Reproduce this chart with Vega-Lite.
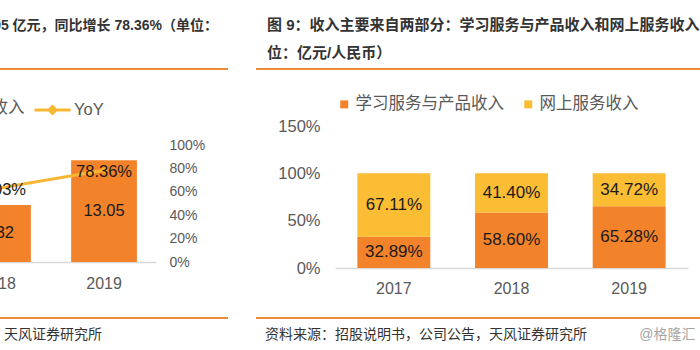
{
  "$schema": "https://vega.github.io/schema/vega-lite/v6.json",
  "background": "white",
  "padding": {"left": -161, "top": 18, "right": 0, "bottom": 0},
  "config": {
    "view": {"stroke": null},
    "font": "Liberation Sans, Noto Sans CJK SC",
    "axis": {"grid": false, "ticks": false, "domain": false, "labelColor": "#595959", "labelFontSize": 16, "labelFont": "Liberation Sans, Noto Sans CJK SC"},
    "legend": {"labelColor": "#595959", "labelFont": "Liberation Sans, Noto Sans CJK SC"},
    "title": {"font": "Liberation Sans, Noto Sans CJK SC", "fontSize": 15, "fontWeight": "bold", "color": "#333333", "lineHeight": 28}
  },
  "datasets": {
    "sep": [{"part": "divider"}],
    "revenue": [
      {"year": "2017", "revenue": 4.49},
      {"year": "2018", "revenue": 7.32, "yoy": 0.6303},
      {"year": "2019", "revenue": 13.05, "yoy": 0.7836}
    ],
    "share": [
      {"year": "2017", "type": "学习服务与产品收入", "share": 0.3289},
      {"year": "2017", "type": "网上服务收入", "share": 0.6711},
      {"year": "2018", "type": "学习服务与产品收入", "share": 0.586},
      {"year": "2018", "type": "网上服务收入", "share": 0.414},
      {"year": "2019", "type": "学习服务与产品收入", "share": 0.6528},
      {"year": "2019", "type": "网上服务收入", "share": 0.3472}
    ]
  },
  "spacing": 0,
  "resolve": {"scale": {"color": "independent"}, "legend": {"color": "independent"}},
  "vconcat": [
    {
      "spacing": 26,
      "hconcat": [
        {
          "width": 388, "height": 27,
          "data": {"name": "sep"},
          "mark": {"type": "rule", "color": "#EE8B3A", "strokeWidth": 2},
          "encoding": {"y": {"datum": 1, "type": "quantitative", "scale": {"domain": [0, 1]}, "axis": null}},
          "title": {"text": "图 8：营业收入 13.05 亿元，同比增长 78.36%（单位：", "anchor": "end", "dx": -11, "offset": 35, "fontSize": 14}
        },
        {
          "width": 450, "height": 27,
          "data": {"name": "sep"},
          "mark": {"type": "rule", "color": "#EE8B3A", "strokeWidth": 2},
          "encoding": {"y": {"datum": 1, "type": "quantitative", "scale": {"domain": [0, 1]}, "axis": null}},
          "title": {"text": ["图 9：收入主要来自两部分：学习服务与产品收入和网上服务收入（单", "位：亿元/人民币）"], "anchor": "start", "dx": 12, "offset": 7}
        }
      ]
    },
    {
      "spacing": 72,
      "resolve": {"scale": {"color": "independent"}, "legend": {"color": "independent"}},
      "hconcat": [
        {
          "width": 316, "height": 136,
          "data": {"name": "revenue"},
          "encoding": {
            "x": {"field": "year", "type": "ordinal", "title": null,
              "scale": {"paddingInner": 0.38, "paddingOuter": 0.18},
              "axis": {"labelAngle": 0, "labelFontSize": 16, "labelPadding": 13, "domain": true, "domainColor": "#D9D9D9", "domainWidth": 1.5}}
          },
          "layer": [
            {
              "layer": [
                {
                  "mark": {"type": "bar"},
                  "encoding": {
                    "y": {"field": "revenue", "type": "quantitative", "scale": {"domain": [0, 17.44], "nice": false}, "axis": null},
                    "color": {"datum": "营业收入", "type": "nominal", "scale": {"range": ["#F2832B"]},
                      "legend": {"orient": "none", "legendX": 97, "legendY": -26, "direction": "horizontal", "title": null, "symbolType": "square", "symbolSize": 64, "labelOffset": 5, "labelFontSize": 16.5}}
                  }
                },
                {
                  "mark": {"type": "text", "fontSize": 16.5, "color": "#1A1A1A"},
                  "encoding": {
                    "y": {"field": "revenue", "type": "quantitative", "stack": "zero", "bandPosition": 0.5, "scale": {"domain": [0, 17.44], "nice": false}, "axis": null},
                    "text": {"field": "revenue", "type": "quantitative", "format": ".2f"}
                  }
                }
              ]
            },
            {
              "encoding": {
                "y": {"field": "yoy", "type": "quantitative", "title": null, "scale": {"domain": [0, 1.1624], "nice": false},
                  "axis": {"orient": "right", "values": [0, 0.2, 0.4, 0.6, 0.8, 1], "format": ".0%", "labelFontSize": 14, "labelPadding": 13}}
              },
              "layer": [
                {
                  "mark": {"type": "line", "strokeWidth": 3, "point": {"shape": "diamond", "filled": true, "size": 50}},
                  "encoding": {
                    "color": {"datum": "YoY", "type": "nominal", "scale": {"range": ["#F7B733"]},
                      "legend": {"orient": "none", "legendX": 198.5, "legendY": -30, "padding": 2.5, "direction": "horizontal", "title": null,
                        "symbolType": "M-1.8,0H1.8M0,-0.35L0.35,0L0,0.35L-0.35,0Z", "symbolSize": 400, "symbolStrokeWidth": 3,
                        "symbolFillColor": "#F7B733", "symbolStrokeColor": "#F7B733", "labelOffset": 10, "labelFontSize": 16.5}}
                  }
                },
                {
                  "mark": {"type": "text", "fontSize": 16.5, "color": "#1A1A1A", "dy": 2},
                  "encoding": {"text": {"field": "yoy", "type": "quantitative", "format": ".2%"}}
                }
              ]
            }
          ],
          "resolve": {"scale": {"y": "independent", "color": "independent"}}
        },
        {
          "width": 353, "height": 142,
          "data": {"name": "share"},
          "encoding": {
            "x": {"field": "year", "type": "ordinal", "title": null,
              "scale": {"paddingInner": 0.38, "paddingOuter": 0.19},
              "axis": {"labelAngle": 0, "labelFontSize": 16, "labelPadding": 12, "domain": true, "domainColor": "#D9D9D9", "domainWidth": 1.5}}
          },
          "layer": [
            {
              "mark": {"type": "bar"},
              "encoding": {
                "y": {"field": "share", "type": "quantitative", "stack": "zero", "title": null, "scale": {"domain": [0, 1.5], "nice": false},
                  "axis": {"values": [0, 0.5, 1, 1.5], "format": ".0%", "labelFontSize": 16.5, "labelPadding": 15}},
                "color": {"field": "type", "type": "nominal",
                  "scale": {"domain": ["学习服务与产品收入", "网上服务收入"], "range": ["#F2832B", "#FBBD33"]},
                  "legend": {"orient": "none", "legendX": 1, "legendY": -30, "direction": "horizontal", "title": null, "symbolType": "square", "symbolSize": 64, "labelOffset": 3, "columnPadding": 16, "labelFontSize": 16.5, "labelLimit": 400}},
                "order": {"field": "type", "type": "ordinal", "sort": "ascending"}
              }
            },
            {
              "mark": {"type": "text", "fontSize": 17, "color": "#1A1A1A"},
              "encoding": {
                "y": {"field": "share", "type": "quantitative", "stack": "zero", "bandPosition": 0.5},
                "detail": {"field": "type", "type": "nominal"},
                "order": {"field": "type", "type": "ordinal", "sort": "ascending"},
                "text": {"field": "share", "type": "quantitative", "format": ".2%"}
              }
            }
          ]
        }
      ]
    },
    {
      "spacing": 26,
      "hconcat": [
        {
          "width": 388, "height": 22,
          "data": {"name": "sep"},
          "mark": {"type": "rule", "color": "#EE8B3A", "strokeWidth": 2},
          "encoding": {"y": {"datum": 0, "type": "quantitative", "scale": {"domain": [0, 1]}, "axis": null}},
          "title": {"text": "资料来源：公司公告，天风证券研究所", "orient": "bottom", "anchor": "end", "dx": -127, "offset": 9, "fontSize": 14, "fontWeight": "normal", "color": "#333333"}
        },
        {
          "width": 450, "height": 22,
          "data": {"name": "sep"},
          "mark": {"type": "rule", "color": "#EE8B3A", "strokeWidth": 2},
          "encoding": {
            "y": {"datum": 0, "type": "quantitative", "scale": {"domain": [0, 1]}, "axis": null},
            "x": {"datum": 0, "type": "quantitative", "scale": {"domain": [0, 1]},
              "axis": {"labels": false, "ticks": false, "domain": false, "grid": false, "title": "@格隆汇", "titleFontSize": 14, "titleFontWeight": "normal", "titleColor": "#A6A6A6", "titleX": 439, "titleAlign": "right", "titlePadding": 9, "titleBaseline": "top"}},
            "x2": {"datum": 1}
          },
          "title": {"text": "资料来源：招股说明书，公司公告，天风证券研究所", "orient": "bottom", "anchor": "start", "dx": 10, "offset": -13, "fontSize": 14, "fontWeight": "normal", "color": "#333333"}
        }
      ]
    }
  ]
}
